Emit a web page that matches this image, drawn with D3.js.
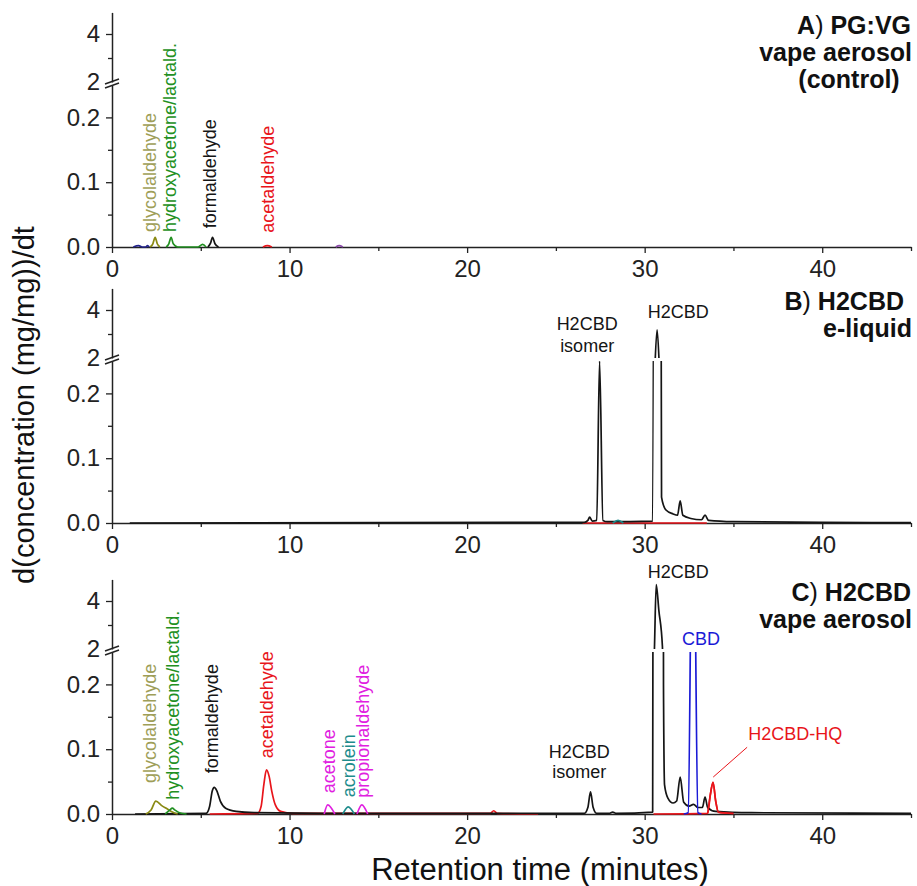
<!DOCTYPE html>
<html>
<head>
<meta charset="utf-8">
<script src="https://cdn.jsdelivr.net/npm/d3@7"></script>
<style>
  body { margin: 0; background: #fff; }
  text { font-family: Arial, "Liberation Sans", sans-serif; }
</style>
</head>
<body>
<div id="chart-area"></div>
<script>
// traces: [retention time (min), d(conc)/dt]

// A) PG:VG vape aerosol (control)
var aNavy = [[1.2, 0], [1.5, 0.002], [1.7, 0], [1.9, 0], [2.0, 0.002], [2.1, 0]];
var aGlycol = [[2.15, 0], [2.3, 0.005], [2.43, 0.015], [2.55, 0.005], [2.7, 0]];
var aHydroxy = [[3.05, 0], [3.2, 0.005], [3.33, 0.015], [3.45, 0.005], [3.7, 0], [4.85, 0], [5.1, 0.004], [5.3, 0]];
var aFormal = [[5.4, 0], [5.55, 0.006], [5.66, 0.015], [5.8, 0.005], [6.0, 0]];
var aAcetal = [[8.5, 0], [8.75, 0.002], [9.0, 0]];
var aPurple = [[12.6, 0], [12.8, 0.002], [13.0, 0]];

// B) H2CBD e-liquid
var bH2cbd = [[1.0, 0], [26.6, 0.001], [26.8, 0.004], [26.9, 0.009], [27.05, 0.003], [27.3, 0.004], [27.46, 0.25],
  [27.65, 0.004], [27.9, 0.002], [30.45, 0.003], [30.7, 3.17], [30.95, 0.04], [31.2, 0.02], [31.6, 0.014],
  [31.85, 0.012], [32.0, 0.034], [32.15, 0.012], [32.6, 0.007], [33.2, 0.005], [33.4, 0.012], [33.6, 0.004],
  [35.0, 0.002], [40.0, 0.001], [45.0, 0.0005]];
var bRed = [[26.5, 0], [33.5, 0]];
var bTeal = [[28.2, 0], [28.5, 0.004], [28.8, 0]];

// C) H2CBD vape aerosol
var cH2cbd = [[1.3, 0], [5.3, 0.001], [5.5, 0.012], [5.65, 0.036], [5.76, 0.041], [5.9, 0.036], [6.1, 0.02],
  [6.4, 0.009], [7.0, 0.004], [8.0, 0.002], [12.0, 0.001], [26.6, 0.001], [26.8, 0.01], [26.95, 0.034],
  [27.1, 0.01], [27.3, 0.001], [28.0, 0.001], [28.2, 0.003], [28.4, 0.001], [30.45, 0.003], [30.55, 2.0],
  [30.65, 4.68], [30.8, 3.6], [31.0, 2.1], [31.06, 0.2], [31.12, 0.045], [31.3, 0.025], [31.6, 0.017],
  [31.8, 0.02], [32.0, 0.057], [32.2, 0.018], [32.5, 0.012], [32.75, 0.015], [33.0, 0.01], [33.25, 0.01],
  [33.4, 0.026], [33.55, 0.01], [34.0, 0.004], [36.0, 0.002], [45.0, 0.001]];
var cGlycol = [[1.9, 0], [2.2, 0.006], [2.47, 0.02], [2.8, 0.013], [3.1, 0.008], [3.4, 0.003], [3.7, 0]];
var cHydroxy = [[3.0, 0], [3.25, 0.006], [3.4, 0.009], [3.55, 0.006], [3.8, 0.002], [4.2, 0]];
var cAcetal = [[5.5, 0], [8.2, 0.001], [8.4, 0.012], [8.55, 0.045], [8.7, 0.068], [8.85, 0.058], [9.0, 0.035],
  [9.2, 0.014], [9.5, 0.004], [10.2, 0.001], [21.3, 0.001], [21.5, 0.005], [21.7, 0.001], [24.0, 0]];
var cAcetone = [[11.95, 0], [12.15, 0.014], [12.55, 0]];
var cAcrolein = [[13.0, 0], [13.3, 0.011], [13.65, 0]];
var cPropanal = [[13.8, 0], [14.07, 0.014], [14.4, 0]];
var cCbd = [[32.2, 0], [32.45, 0.002], [32.72, 0.6], [33.0, 0.002], [33.2, 0]];
var cHq = [[30.5, 0], [33.55, 0.001], [33.7, 0.03], [33.85, 0.049], [34.0, 0.02], [34.15, 0.003], [35.0, 0.001]];

// peak names: [text, time, level]
var aNames = [["glycolaldehyde", 2.48, 0.023], ["hydroxyacetone/lactald.", 3.6, 0.023],
  ["formaldehyde", 5.86, 0.029], ["acetaldehyde", 9.13, 0.022]];
var cNames = [["glycolaldehyde", 2.48, 0.048], ["hydroxyacetone/lactald.", 3.77, 0.022],
  ["formaldehyde", 5.97, 0.063], ["acetaldehyde", 9.07, 0.086], ["acetone", 12.56, 0.032],
  ["acrolein", 13.69, 0.026], ["propionaldehyde", 14.48, 0.025]];
var bPeakNames = [["H2CBD", 31.89, 3.67, "up"], ["H2CBD", 26.76, 3.17, "up"], ["isomer", 26.76, 2.25, "up"]];
var cPeakNames = [["H2CBD", 31.89, 4.96, "up"], ["CBD", 33.18, 2.17, "up"], ["H2CBD", 26.31, 0.086, "low"],
  ["isomer", 26.31, 0.055, "low"], ["H2CBD-HQ", 38.48, 0.114, "low"]];
var cLeader = [[35.77, 0.103], [33.86, 0.057]];

var xTicks = [0, 10, 20, 30, 40];
var xMinor = [5, 15, 25, 35, 45];
var lowTicks = [0, 0.1, 0.2];
var lowMinor = [0.05, 0.15];
var upTicks = [2, 4];
var upMinor = [3];

var col = {
  black: "#151515", olive: "#8a8a14", oliveText: "#9e9e58", green: "#229022", red: "#e8151b",
  magenta: "#e020e0", teal: "#1e8c8c", blue: "#1a1ad6", navy: "#22228a", purple: "#8a4aa8"
};

var panels = [
  { base: 247, title: ["A", "PG:VG", "vape aerosol", "(control)"],
    traces: [[aNavy, col.navy], [aFormal, col.black], [aGlycol, col.olive], [aHydroxy, col.green],
             [aAcetal, col.red], [aPurple, col.purple]],
    rotated: aNames, rotColors: [col.oliveText, col.green, col.black, col.red], flat: [], flatColors: [] },
  { base: 523, title: ["B", "H2CBD", "e-liquid"],
    traces: [[bRed, col.red], [bH2cbd, col.black], [bTeal, col.teal]],
    rotated: [], rotColors: [], flat: bPeakNames, flatColors: [col.black, col.black, col.black] },
  { base: 814, title: ["C", "H2CBD", "vape aerosol"],
    traces: [[cAcetal, col.red], [cHq, col.red], [cH2cbd, col.black], [cGlycol, col.olive], [cHydroxy, col.green],
             [cAcetone, col.magenta], [cAcrolein, col.teal], [cPropanal, col.magenta], [cCbd, col.blue], [cHq.slice(1), col.red]],
    rotated: cNames,
    rotColors: [col.oliveText, col.green, col.black, col.red, col.magenta, col.teal, col.magenta],
    flat: cPeakNames, flatColors: [col.black, col.blue, col.black, col.black, col.red] }
];

var svg = d3.select("#chart-area").append("svg")
    .attr("width", 917)
    .attr("height", 886);

var x = d3.scaleLinear().domain([0, 45]).range([112, 911]);

function styleAxis(g) {
    g.select(".domain").attr("stroke", "#222").attr("stroke-width", 1.5);
    g.selectAll(".tick line").attr("stroke", "#222").attr("stroke-width", 1.3);
    g.selectAll(".tick text").attr("fill", "#222").style("font-size", "24px")
        .attr("font-family", "Arial, 'Liberation Sans', sans-serif");
}

panels.forEach(function(p, i) {
    var base = p.base;
    var yLow = d3.scaleLinear().domain([0, 0.25]).range([base, base - 162]);
    var yUp = d3.scaleLinear().domain([2, 4.9]).range([base - 165, base - 234.6]);
    var g = svg.append("g");

    var defs = g.append("defs");
    defs.append("clipPath").attr("id", "low" + i).append("rect")
        .attr("x", 112).attr("y", base - 162).attr("width", 800).attr("height", 164);
    defs.append("clipPath").attr("id", "up" + i).append("rect")
        .attr("x", 112).attr("y", base - 236).attr("width", 800).attr("height", 71);

    // x axis
    var gx = g.append("g").attr("transform", "translate(0," + base + ")")
        .call(d3.axisBottom(x).tickValues(xTicks).tickSize(6).tickSizeOuter(0).tickPadding(7));
    styleAxis(gx);
    var gxm = g.append("g").attr("transform", "translate(0," + base + ")")
        .call(d3.axisBottom(x).tickValues(xMinor).tickSize(4).tickFormat(""));
    gxm.select(".domain").remove();
    styleAxis(gxm);

    // broken y axis
    var gl = g.append("g").attr("transform", "translate(112,0)")
        .call(d3.axisLeft(yLow).tickValues(lowTicks).tickFormat(d3.format(".1f")).tickSize(6).tickSizeOuter(0).tickPadding(6));
    styleAxis(gl);
    var glm = g.append("g").attr("transform", "translate(112,0)")
        .call(d3.axisLeft(yLow).tickValues(lowMinor).tickFormat("").tickSize(4));
    glm.select(".domain").remove();
    styleAxis(glm);

    var gu = g.append("g").attr("transform", "translate(112,0)")
        .call(d3.axisLeft(yUp).tickValues(upTicks).tickFormat(d3.format("d")).tickSize(6).tickSizeOuter(0).tickPadding(6));
    styleAxis(gu);
    gu.selectAll(".tick line").filter(function(d) { return d === 2; }).remove();
    var gum = g.append("g").attr("transform", "translate(112,0)")
        .call(d3.axisLeft(yUp).tickValues(upMinor).tickFormat("").tickSize(4));
    gum.select(".domain").remove();
    styleAxis(gum);

    // break marks
    var yb = base - 163.5;
    [-2, 2].forEach(function(off) {
        g.append("line")
            .attr("x1", 105).attr("y1", yb + off + 2.5)
            .attr("x2", 119).attr("y2", yb + off - 2.5)
            .attr("stroke", "#222").attr("stroke-width", 1.4);
    });

    // traces, once per axis segment
    var lineLow = d3.line().x(function(d) { return x(d[0]); }).y(function(d) { return yLow(d[1]); })
        .curve(d3.curveMonotoneX);
    var lineUp = d3.line().x(function(d) { return x(d[0]); }).y(function(d) { return yUp(d[1]); })
        .curve(d3.curveMonotoneX);
    p.traces.forEach(function(tr) {
        g.append("path").attr("clip-path", "url(#low" + i + ")")
            .attr("d", lineLow(tr[0])).attr("fill", "none")
            .attr("stroke", tr[1]).attr("stroke-width", 1.7).attr("stroke-linejoin", "round");
        g.append("path").attr("clip-path", "url(#up" + i + ")")
            .attr("d", lineUp(tr[0])).attr("fill", "none")
            .attr("stroke", tr[1]).attr("stroke-width", 1.7).attr("stroke-linejoin", "round");
    });

    // rotated compound names
    p.rotated.forEach(function(n, k) {
        g.append("text")
            .attr("transform", "translate(" + x(n[1]) + "," + yLow(n[2]) + ") rotate(-90)")
            .attr("fill", p.rotColors[k])
            .style("font-size", "18px")
            .text(n[0]);
    });

    // horizontal peak names
    p.flat.forEach(function(n, k) {
        var yy = n[3] === "up" ? yUp(n[2]) : yLow(n[2]);
        g.append("text")
            .attr("x", x(n[1])).attr("y", yy)
            .attr("text-anchor", "middle")
            .attr("fill", p.flatColors[k])
            .style("font-size", "18px")
            .text(n[0]);
    });

    // panel title
    var t1 = g.append("text")
        .attr("x", i === 1 ? 904 : 911).attr("y", base - 213)
        .attr("text-anchor", "end")
        .style("font-size", "25px").style("font-weight", "bold").attr("fill", "#111");
    t1.append("tspan").text(p.title[0]);
    t1.append("tspan").style("font-weight", "normal").text(")");
    t1.append("tspan").text(" " + p.title[1]);
    g.append("text")
        .attr("x", 912).attr("y", base - 186)
        .attr("text-anchor", "end")
        .style("font-size", "25px").style("font-weight", "bold").attr("fill", "#111")
        .text(p.title[2]);
    if (p.title[3]) {
        g.append("text")
            .attr("x", 849).attr("y", base - 159)
            .attr("text-anchor", "middle")
            .style("font-size", "25px").style("font-weight", "bold").attr("fill", "#111")
            .text(p.title[3]);
    }

    // leader line for H2CBD-HQ
    if (i === 2) {
        g.append("line")
            .attr("x1", x(cLeader[0][0])).attr("y1", yLow(cLeader[0][1]))
            .attr("x2", x(cLeader[1][0])).attr("y2", yLow(cLeader[1][1]))
            .attr("stroke", col.red).attr("stroke-width", 1);
    }
});

// axis titles
svg.append("text")
    .attr("x", 540).attr("y", 880)
    .attr("text-anchor", "middle")
    .style("font-size", "31px").attr("fill", "#111")
    .text("Retention time (minutes)");

svg.append("text")
    .attr("transform", "translate(34,405) rotate(-90)")
    .attr("text-anchor", "middle")
    .style("font-size", "29px").attr("fill", "#111")
    .text("d(concentration (mg/mg))/dt");
</script>
</body>
</html>
